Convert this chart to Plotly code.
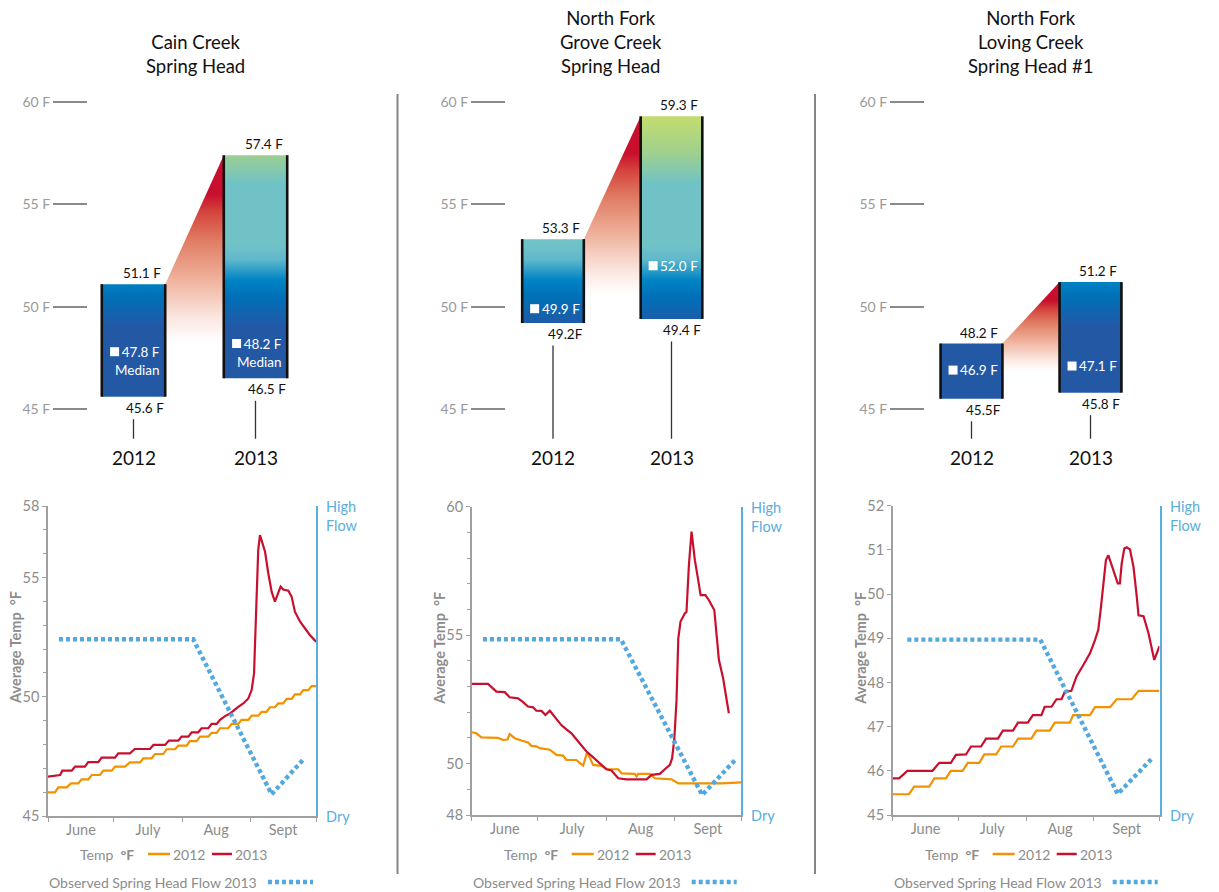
import plotly.graph_objects as go

W, H = 1219, 892

# ---------------- data ----------------
site_titles = ["Cain Creek<br>Spring Head",
               "North Fork<br>Grove Creek<br>Spring Head",
               "North Fork<br>Loving Creek<br>Spring Head #1"]
years = ["2012", "2013"]

min_2012 = [45.6, 49.2, 45.5]
max_2012 = [51.1, 53.3, 48.2]
med_2012 = [47.8, 49.9, 46.9]
min_2013 = [46.5, 49.4, 45.8]
max_2013 = [57.4, 59.3, 51.2]
med_2013 = [48.2, 52.0, 47.1]
min_sep_2012 = [" ", "", ""]          # printed "49.2F", "45.5F"
median_word = [True, False, False]

top_ticks = [45, 50, 55, 60]
top_ticktext = ["45 F", "50 F", "55 F", "60 F"]

month_labels = ["June", "July", "Aug", "Sept"]
month_starts = [0, 30, 61, 92, 122]   # days since June 1

# days since June 1 / average temperature (F)
cain_12_day = [0, 3.2, 4.7, 8.5, 10.5, 13.8, 15.3, 18.4, 19.9, 23.7, 25.2, 29.0, 30.5, 35.0, 37.3, 41.9,
               43.4, 47.2, 48.7, 52.5, 54.0, 57.8, 59.3, 63.1, 64.6, 67.7, 69.2, 73.0, 74.5, 76.8, 78.3,
               82.1, 83.6, 86.6, 88.1, 91.2, 92.7, 95.7, 97.2, 99.5, 101.0, 103.3, 104.8, 107.1, 108.6,
               110.9, 112.4, 114.7, 116.2, 118.5, 120.0, 122]
cain_12_temp = [45.99, 45.99, 46.20, 46.20, 46.37, 46.37, 46.54, 46.54, 46.72, 46.72, 46.90, 46.90,
                47.07, 47.07, 47.25, 47.25, 47.42, 47.42, 47.60, 47.60, 47.80, 47.80, 47.95, 47.95,
                48.14, 48.14, 48.33, 48.33, 48.49, 48.49, 48.68, 48.68, 48.86, 48.86, 49.03, 49.03,
                49.21, 49.21, 49.37, 49.37, 49.56, 49.56, 49.72, 49.72, 49.91, 49.91, 50.10, 50.10,
                50.28, 50.28, 50.45, 50.45]
cain_13_day = [0, 5.5, 6.5, 10.8, 12.3, 16.8, 18.3, 22.9, 24.4, 30.5, 32, 37.3, 39.5, 46.4, 48, 53.3,
               55, 59.3, 60.8, 63.9, 65.4, 68.4, 69.9, 73.0, 74.5, 76.8, 78.3, 80.6, 82.9, 84.4, 86.6,
               88.9, 91.2, 92.7, 93.8, 94.2, 95.0, 95.7, 96.5, 98.8, 100.3, 101.8, 103.3, 104.8, 105.9,
               107.1, 109.4, 110.9, 112.4, 114.7, 117.0, 119.2, 122]
cain_13_temp = [46.65, 46.72, 46.90, 46.90, 47.07, 47.07, 47.26, 47.26, 47.45, 47.45, 47.63, 47.63,
                47.81, 47.81, 47.98, 47.98, 48.16, 48.16, 48.33, 48.33, 48.51, 48.51, 48.68, 48.68,
                48.86, 48.86, 49.03, 49.19, 49.30, 49.42, 49.58, 49.72, 49.93, 50.28, 50.98, 52.10,
                54.06, 56.15, 56.78, 56.08, 55.17, 54.41, 53.99, 54.34, 54.62, 54.50, 54.45, 54.20,
                53.57, 53.16, 52.88, 52.59, 52.31]

grove_12_day = [0, 2.1, 4.4, 11.9, 14.2, 16.2, 17.2, 19.5, 22.5, 25.5, 27.0, 29.3, 30.8, 35.4, 38.4,
                41.4, 42.9, 47.4, 50.5, 52.0, 52.7, 55.0, 58.8, 61.1, 66.4, 67.9, 73.9, 74.7, 75.4,
                80.7, 83.0, 90.5, 93.6, 98.1, 104.1, 113.2, 122]
grove_12_temp = [51.22, 51.18, 51.02, 51.00, 50.92, 50.94, 51.15, 50.99, 50.90, 50.82, 50.69, 50.67,
                 50.60, 50.54, 50.34, 50.31, 50.14, 50.14, 49.92, 50.37, 50.37, 49.95, 49.91, 49.78,
                 49.78, 49.62, 49.60, 49.50, 49.60, 49.60, 49.43, 49.39, 49.23, 49.23, 49.23, 49.23,
                 49.27]
grove_13_day = [0, 7.4, 11.2, 15.0, 17.2, 21.0, 23.3, 25.5, 27.8, 29.3, 31.6, 33.4, 35.4, 37.6, 40.6,
                42.9, 45.2, 47.4, 49.7, 52.0, 54.3, 56.5, 58.8, 61.1, 63.3, 66.4, 70.1, 73.9, 79.2,
                81.5, 85.2, 87.5, 89.8, 90.8, 91.8, 92.8, 93.6, 94.6, 96.6, 97.3, 98.4, 99.6, 101.1,
                102.6, 103.7, 105.9, 107.4, 109.9, 110.9, 112.0, 113.9, 116.5]
grove_13_temp = [53.10, 53.10, 52.80, 52.78, 52.58, 52.54, 52.39, 52.22, 52.19, 52.06, 52.05, 51.89,
                 52.06, 51.83, 51.50, 51.33, 51.18, 50.95, 50.72, 50.47, 50.30, 50.11, 49.95, 49.78,
                 49.73, 49.43, 49.39, 49.39, 49.39, 49.56, 49.60, 49.78, 49.95, 50.21, 50.97, 52.48,
                 54.88, 55.53, 55.85, 55.90, 57.73, 59.03, 57.92, 57.15, 56.56, 56.56, 56.37, 55.98,
                 55.07, 54.03, 53.32, 51.96]

loving_12_day = [0, 7.5, 9.8, 16.7, 19.0, 24.3, 26.6, 32.0, 34.3, 39.6, 41.9, 47.3, 49.6, 55.0, 57.3,
                 63.4, 65.7, 71.8, 74.1, 81.0, 82.5, 90.2, 92.5, 99.4, 102.4, 109.3, 112.4, 122]
loving_12_temp = [45.47, 45.47, 45.64, 45.64, 45.83, 45.83, 46.00, 46.00, 46.18, 46.18, 46.37, 46.37,
                  46.55, 46.55, 46.73, 46.73, 46.91, 46.91, 47.09, 47.09, 47.26, 47.26, 47.44, 47.44,
                  47.62, 47.62, 47.81, 47.81]
loving_13_day = [0, 2.9, 5.2, 6.7, 18.2, 21.3, 26.6, 28.9, 33.5, 35.8, 40.4, 42.7, 48.1, 50.4, 55.0,
                 57.3, 61.8, 64.1, 68.0, 69.5, 72.6, 74.9, 77.2, 78.7, 81.7, 84.0, 87.1, 90.2, 92.5,
                 94.0, 95.1, 96.3, 97.5, 98.6, 100.1, 101.6, 102.9, 103.9, 104.7, 105.9, 107.0, 108.5,
                 110.1, 111.6, 112.4, 114.7, 117.0, 119.6, 122]
loving_13_temp = [45.83, 45.83, 45.93, 46.00, 46.00, 46.18, 46.18, 46.36, 46.37, 46.55, 46.55, 46.73,
                  46.73, 46.91, 46.91, 47.09, 47.09, 47.26, 47.26, 47.45, 47.45, 47.62, 47.62, 47.79,
                  47.81, 48.13, 48.39, 48.66, 48.96, 49.19, 49.64, 50.24, 50.77, 50.88, 50.66, 50.47,
                  50.24, 50.24, 50.69, 51.03, 51.06, 51.01, 50.62, 49.94, 49.52, 49.50, 49.11, 48.51,
                  48.82]

# observed spring head flow 2013 (0 = dry, 1 = high flow)
cain_flow_day = [5.0, 66.1, 101.8, 116.7]
cain_flow = [0.57, 0.57, 0.07, 0.186]
grove_flow_day = [5.1, 67.6, 104.4, 119.7]
grove_flow = [0.57, 0.57, 0.065, 0.181]
loving_flow_day = [6.7, 67.5, 102.9, 118.2]
loving_flow = [0.567, 0.567, 0.068, 0.18]

bottom_ranges = [[45, 58], [48, 60], [45, 52]]
bottom_ticks = [[45, 50, 55, 58], [48, 50, 55, 60], [45, 46, 47, 48, 49, 50, 51, 52]]

series_12 = [(cain_12_day, cain_12_temp), (grove_12_day, grove_12_temp), (loving_12_day, loving_12_temp)]
series_13 = [(cain_13_day, cain_13_temp), (grove_13_day, grove_13_temp), (loving_13_day, loving_13_temp)]
flows = [(cain_flow_day, cain_flow), (grove_flow_day, grove_flow), (loving_flow_day, loving_flow)]

# ---------------- styling ----------------
FONT = "Lato, 'Open Sans', sans-serif"
GRAY = "#8c8c8c"
ORANGE = "#f39200"
RED = "#c8102e"
BLUE = "#52a8df"
BLUE_AX = "#5aaee0"
OFF = 8  # page body margin of the exported html


def fx(p):
    return (p - OFF) / W


def fy(p):
    return 1 - (p - OFF) / H


temp_stops = [(45, "#2358a5"), (49, "#2358a5"), (50.5, "#0070b8"), (51.3, "#0084c5"),
              (52.3, "#5fb8cb"), (53, "#70c2c6"), (56, "#70c2c6"), (57.5, "#9fd08e"),
              (59.5, "#c8dd6a"), (60, "#c8dd6a")]
temp_scale = [[(t - 45) / 15, c] for t, c in temp_stops]
conn_scale = [[0, "#ffffff"], [0.12, "#fbe9e3"], [0.35, "#eeae98"], [0.55, "#e07a62"],
              [0.7, "#d4423c"], [0.79, "#c8102e"], [1, "#c8102e"]]

fig = go.Figure()
layout = dict(width=W, height=H, margin=dict(l=0, r=0, t=0, b=0, pad=0, autoexpand=False),
              paper_bgcolor="white", plot_bgcolor="white", showlegend=False,
              hovermode=False, font=dict(family=FONT, color=GRAY, size=14))
annotations = []
shapes = []

# ---------- top panels: range bars ----------
TOP_AXIS_PX = [88, 506, 925]
TOP_C0 = [133.5, 553, 971.5]
TOP_STEP = [122, 118.5, 119]
TOP_RIGHT = [395, 812, 1215]
k = (409 - 102) / 15.0
top_lo = 45 - (475 - 409) / k
top_hi = 45 + (409 - 95) / k
hw = 0.26
TITLE_X = [195, 611, 1030]
VAL_FS = 13.5
LEG_FS = 14

for i in range(3):
    n = i + 1
    xr = "x" if n == 1 else f"x{n}"
    yr = "y" if n == 1 else f"y{n}"
    xname = "xaxis" if n == 1 else f"xaxis{n}"
    yname = "yaxis" if n == 1 else f"yaxis{n}"
    c0, s = TOP_C0[i], TOP_STEP[i]
    layout[xname] = dict(domain=[fx(TOP_AXIS_PX[i]), fx(TOP_RIGHT[i])],
                         range=[(TOP_AXIS_PX[i] - c0) / s, (TOP_RIGHT[i] - c0) / s],
                         visible=False, anchor=yr, automargin=False)
    layout[yname] = dict(domain=[fy(475), fy(95)], range=[top_lo, top_hi], anchor=xr,
                         tickvals=top_ticks, ticktext=top_ticktext, ticks="outside",
                         ticklen=34, tickwidth=2, tickcolor="#8a8a8a", showline=False,
                         showgrid=False, zeroline=False, automargin=False,
                         tickfont=dict(size=14, color="#9a9a9a", family=FONT))

    lows = [min_2012[i], min_2013[i]]
    highs = [max_2012[i], max_2013[i]]
    meds = [med_2012[i], med_2013[i]]

    # connector (red fade)
    diff = highs[1] - highs[0]
    white_pt = highs[1] - 1.45 * diff
    fig.add_trace(go.Scatter(
        x=[0 + hw, 1 - hw, 1 - hw, 0 + hw, 0 + hw],
        y=[highs[0], highs[1], white_pt, white_pt, highs[0]],
        mode="lines", fill="toself", line=dict(width=0),
        fillgradient=dict(type="vertical", colorscale=conn_scale, start=white_pt, stop=highs[1]),
        xaxis=xr, yaxis=yr, hoverinfo="skip"))

    for j in range(2):
        lo, hi = lows[j], highs[j]
        fig.add_trace(go.Scatter(
            x=[j - hw, j + hw, j + hw, j - hw, j - hw], y=[lo, lo, hi, hi, lo],
            mode="lines", fill="toself", line=dict(width=0),
            fillgradient=dict(type="vertical", colorscale=temp_scale, start=45, stop=60),
            xaxis=xr, yaxis=yr, hoverinfo="skip"))
        fig.add_trace(go.Scatter(
            x=[j - hw, j - hw, None, j + hw, j + hw], y=[lo, hi, None, lo, hi],
            mode="lines", line=dict(color="#111111", width=2.6),
            xaxis=xr, yaxis=yr, hoverinfo="skip"))
        # median marker
        fig.add_trace(go.Scatter(
            x=[j - 0.155], y=[meds[j]], mode="markers",
            marker=dict(symbol="square", size=9, color="white", line=dict(width=0)),
            xaxis=xr, yaxis=yr, hoverinfo="skip"))
        if median_word[i]:
            annotations.append(dict(x=j + hw, y=meds[j], xref=xr, yref=yr,
                                    text=f"{meds[j]:.1f} F<br>Median", showarrow=False,
                                    xanchor="right", yanchor="middle", align="right",
                                    xshift=-3, yshift=-9,
                                    font=dict(size=VAL_FS, color="white", family=FONT)))
        else:
            annotations.append(dict(x=j - 0.155, y=meds[j], xref=xr, yref=yr,
                                    text=f"{meds[j]:.1f} F", showarrow=False,
                                    xanchor="left", yanchor="middle", xshift=5,
                                    font=dict(size=VAL_FS, color="white", family=FONT)))
        # top / bottom values
        annotations.append(dict(x=j + hw, y=hi, xref=xr, yref=yr, text=f"{hi:.1f} F",
                                showarrow=False, xanchor="right", yanchor="bottom",
                                xshift=-2, yshift=1,
                                font=dict(size=VAL_FS, color="#111111", family=FONT)))
        sep = min_sep_2012[i] if j == 0 else " "
        annotations.append(dict(x=j + hw, y=lo, xref=xr, yref=yr, text=f"{lo:.1f}{sep}F",
                                showarrow=False, xanchor="right", yanchor="top",
                                xshift=1, yshift=-1,
                                font=dict(size=VAL_FS, color="#111111", family=FONT)))
        # leader line + year
        shapes.append(dict(type="line", xref=xr, yref=yr, x0=j, x1=j, y0=lo - 1.1, y1=43.55,
                           line=dict(color="#333333", width=1.3)))
        annotations.append(dict(x=j, y=42.62, xref=xr, yref=yr, text=years[j], showarrow=False,
                                xanchor="center", yanchor="middle",
                                font=dict(size=19, color="#111111", family=FONT)))

    annotations.append(dict(x=fx(TITLE_X[i]), y=fy(79), xref="paper", yref="paper",
                            text=site_titles[i], showarrow=False, xanchor="center",
                            yanchor="bottom", align="center",
                            font=dict(size=18.5, color="#111111", family=FONT)))

# ---------- bottom panels: daily temperature + flow ----------
BX = [[48, 316], [471.7, 741], [892.7, 1159.5]]
BY = [[506, 816], [506.7, 815], [505.7, 815]]
month_mid = [(month_starts[m] + month_starts[m + 1]) / 2 for m in range(4)]

for i in range(3):
    n = i + 4
    fn = i + 7
    xr, yr, fr = f"x{n}", f"y{n}", f"y{fn}"
    x0p, x1p = BX[i]
    y0p, y1p = BY[i]
    layout[f"xaxis{n}"] = dict(domain=[fx(x0p), fx(x1p)], range=[0, 122], anchor=yr,
                               showline=True, linecolor="#a0a0a0", linewidth=1.5,
                               tickvals=month_mid, ticktext=month_labels, ticks="outside",
                               ticklen=0, tickcolor="#a0a0a0", automargin=False,
                               minor=dict(tickvals=month_starts, ticks="outside", ticklen=4,
                                          tickcolor="#a0a0a0", tickwidth=1, showgrid=False),
                               showgrid=False, zeroline=False,
                               tickfont=dict(size=14.5, color=GRAY, family=FONT))
    lo_r, hi_r = bottom_ranges[i]
    layout[f"yaxis{n}"] = dict(domain=[fy(y1p), fy(y0p)], range=[lo_r, hi_r], anchor=xr,
                               showline=True, linecolor="#a0a0a0", linewidth=1.5,
                               tickvals=bottom_ticks[i], ticks="outside", ticklen=4,
                               tickcolor="#a0a0a0", automargin=False,
                               minor=dict(dtick=1, tick0=lo_r, ticks="outside", ticklen=3,
                                          tickcolor="#a0a0a0", showgrid=False),
                               showgrid=False, zeroline=False,
                               tickfont=dict(size=14.5, color=GRAY, family=FONT))
    layout[f"yaxis{fn}"] = dict(overlaying=yr, anchor=xr, side="right", range=[0, 1],
                                showline=True, linecolor=BLUE_AX, linewidth=1.8,
                                showticklabels=False, ticks="", showgrid=False, zeroline=False,
                                automargin=False)

    d12, t12 = series_12[i]
    d13, t13 = series_13[i]
    fd, fv = flows[i]
    fig.add_trace(go.Scatter(x=d12, y=t12, mode="lines", line=dict(color=ORANGE, width=2.2),
                             xaxis=xr, yaxis=yr, hoverinfo="skip"))
    fig.add_trace(go.Scatter(x=d13, y=t13, mode="lines", line=dict(color=RED, width=2.2),
                             xaxis=xr, yaxis=yr, hoverinfo="skip"))
    fig.add_trace(go.Scatter(x=fd, y=fv, mode="lines",
                             line=dict(color=BLUE, width=4.4, dash="4px,3px"),
                             xaxis=xr, yaxis=fr, hoverinfo="skip"))

    # y title
    annotations.append(dict(x=fx(x0p - 33), y=fy(648), xref="paper", yref="paper",
                            text="<b>Average Temp  °F</b>", textangle=-90, showarrow=False,
                            xanchor="center", yanchor="middle",
                            font=dict(size=14.5, color=GRAY, family=FONT)))
    # flow axis labels
    annotations.append(dict(x=fx(x1p + 8), y=fy(y0p - 10), xref="paper", yref="paper",
                            text="High<br>Flow", showarrow=False, xanchor="left", yanchor="top",
                            align="left", font=dict(size=14.5, color=BLUE_AX, family=FONT)))
    annotations.append(dict(x=fx(x1p + 8), y=fy(y1p), xref="paper", yref="paper",
                            text="Dry", showarrow=False, xanchor="left", yanchor="middle",
                            font=dict(size=14.5, color=BLUE_AX, family=FONT)))
    # legend row 1
    ly = 854
    annotations.append(dict(x=fx(x0p + 30), y=fy(ly), xref="paper", yref="paper",
                            text="Temp  <b>°F</b>", showarrow=False, xanchor="left",
                            yanchor="middle", font=dict(size=LEG_FS, color=GRAY, family=FONT)))
    shapes.append(dict(type="line", xref="paper", yref="paper", x0=fx(x0p + 100),
                       x1=fx(x0p + 122), y0=fy(ly), y1=fy(ly),
                       line=dict(color=ORANGE, width=2.5)))
    annotations.append(dict(x=fx(x0p + 123), y=fy(ly), xref="paper", yref="paper",
                            text=years[0], showarrow=False, xanchor="left", yanchor="middle",
                            font=dict(size=LEG_FS, color=GRAY, family=FONT)))
    shapes.append(dict(type="line", xref="paper", yref="paper", x0=fx(x0p + 164),
                       x1=fx(x0p + 184), y0=fy(ly), y1=fy(ly),
                       line=dict(color=RED, width=2.5)))
    annotations.append(dict(x=fx(x0p + 185), y=fy(ly), xref="paper", yref="paper",
                            text=years[1], showarrow=False, xanchor="left", yanchor="middle",
                            font=dict(size=LEG_FS, color=GRAY, family=FONT)))
    # legend row 2
    ly2 = 882
    annotations.append(dict(x=fx(x0p - 1), y=fy(ly2), xref="paper", yref="paper",
                            text="Observed Spring Head Flow 2013", showarrow=False,
                            xanchor="left", yanchor="middle",
                            font=dict(size=LEG_FS, color=GRAY, family=FONT)))
    shapes.append(dict(type="line", xref="paper", yref="paper", x0=fx(x0p + 220),
                       x1=fx(x0p + 265), y0=fy(ly2), y1=fy(ly2),
                       line=dict(color=BLUE, width=4.4, dash="4px,3px")))

# panel dividers
for xp in [397.5, 815]:
    shapes.append(dict(type="line", xref="paper", yref="paper", x0=fx(xp), x1=fx(xp),
                       y0=fy(94), y1=fy(874), line=dict(color="#858585", width=2)))

layout["annotations"] = annotations
layout["shapes"] = shapes
fig.update_layout(**layout)
fig.write_html("out.html")
